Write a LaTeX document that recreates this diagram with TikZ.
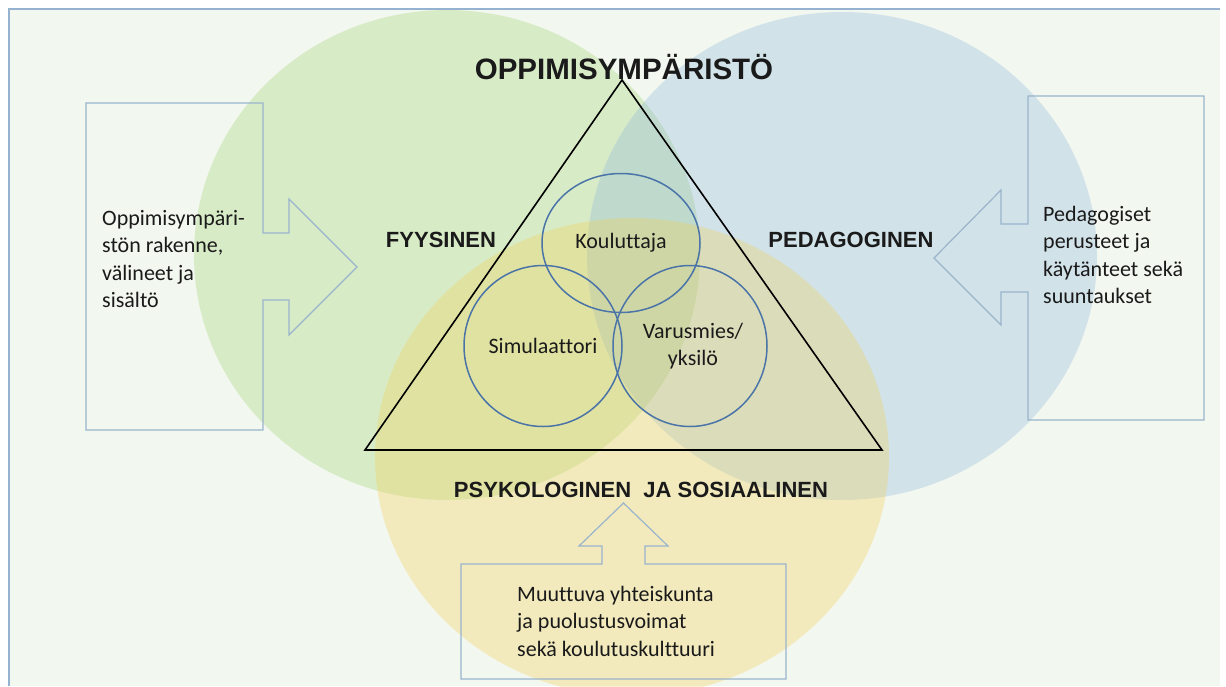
\documentclass[tikz,border=0pt]{standalone}
\usepackage{fontspec}
\setmainfont{Carlito}[Ligatures=NoCommon]
\newfontfamily\headfont{Liberation Sans}
\usetikzlibrary{shapes.geometric}

\definecolor{bgfill}{RGB}{242,247,239}
\definecolor{framec}{RGB}{149,179,208}
\definecolor{greenc}{RGB}{159,210,109}
\definecolor{bluec}{RGB}{135,180,222}
\definecolor{yellowc}{RGB}{245,207,76}
\definecolor{calloutc}{RGB}{154,180,204}
\definecolor{ringc}{RGB}{74,116,168}
\definecolor{inkc}{RGB}{26,26,26}

\begin{document}
\begin{tikzpicture}[x=1pt,y=-1pt,
  zone/.style={fill opacity=0.3},
  ring/.style={ellipse, draw=ringc, line width=1.5pt, text=inkc,
    font=\fontsize{22}{27}\selectfont, align=center, inner sep=0},
  callout/.style={draw=calloutc, line width=1.2pt, line join=miter},
  heading/.style={font=\headfont\bfseries\fontsize{22}{26}\selectfont, text=inkc, inner sep=0},
  body/.style={font=\fontsize{22}{27.5}\selectfont, text=inkc, inner sep=0, align=left},
]
\useasboundingbox (0,0) rectangle (1226,686);

% page background and frame
\fill[bgfill] (8,8) rectangle (1220,686);
\draw[framec, line width=2pt] (9,686) -- (9,9) -- (1220,9);

% the three overlapping zones
\fill[greenc, zone] (447,255) ellipse [x radius=253, y radius=245];
\fill[bluec, zone] (842,256) ellipse [x radius=255, y radius=244];
\fill[yellowc, zone] (632,457) ellipse [x radius=257, y radius=239];

% triangle
\coordinate (apex) at (622,80);
\coordinate (brc) at (882,450);
\coordinate (blc) at (365,450);
\draw[line width=1.6pt, line join=miter] (apex) -- (brc) -- (blc) -- cycle;

% inner circles
\node[ring, minimum width=158pt, minimum height=139pt] (kou) at (621,243) {Kouluttaja};
\node[ring, minimum width=158pt, minimum height=161pt] (sim) at (543,346) {Simulaattori};
\node[ring, minimum width=154pt, minimum height=161pt] (var) at (690,346) {\hspace*{6pt}Varusmies/\\\hspace*{6pt}yksilö};

% headings
\node[heading, font=\headfont\bfseries\fontsize{29.5}{34}\selectfont] (env) at (624,67) {OPPIMISYMPÄRISTÖ};
\node[heading] (phys) at (441,240) {FYYSINEN};
\node[heading] (ped) at (851,240) {PEDAGOGINEN};
\node[heading] (psy) at (641,490) {PSYKOLOGINEN\ \ JA SOSIAALINEN};

% callout arrows
\draw[callout] (86,103) -- (263,103) -- (263,233) -- (289,233) -- (289,199) -- (357,267)
  -- (289,335) -- (289,300) -- (263,300) -- (263,430) -- (86,430) -- cycle;
\draw[callout] (1204,96) -- (1028,96) -- (1028,224) -- (1001,224) -- (1001,190) -- (934,258)
  -- (1001,325) -- (1001,292) -- (1028,292) -- (1028,420) -- (1204,420) -- cycle;
\draw[callout] (461,564) -- (602,564) -- (602,546) -- (579,546) -- (623.5,503) -- (668,546)
  -- (645,546) -- (645,564) -- (786,564) -- (786,679) -- (461,679) -- cycle;

% callout texts
\node[body, anchor=west] (lefttext) at (102,259) {Oppimisympäri-\\stön rakenne,\\välineet ja\\sisältö};
\node[body, anchor=west] (righttext) at (1043,255) {Pedagogiset\\perusteet ja\\käytänteet sekä\\suuntaukset};
\node[body, anchor=west] (bottomtext) at (517,621) {Muuttuva yhteiskunta\\ja puolustusvoimat\\sekä koulutuskulttuuri};
\end{tikzpicture}
\end{document}
